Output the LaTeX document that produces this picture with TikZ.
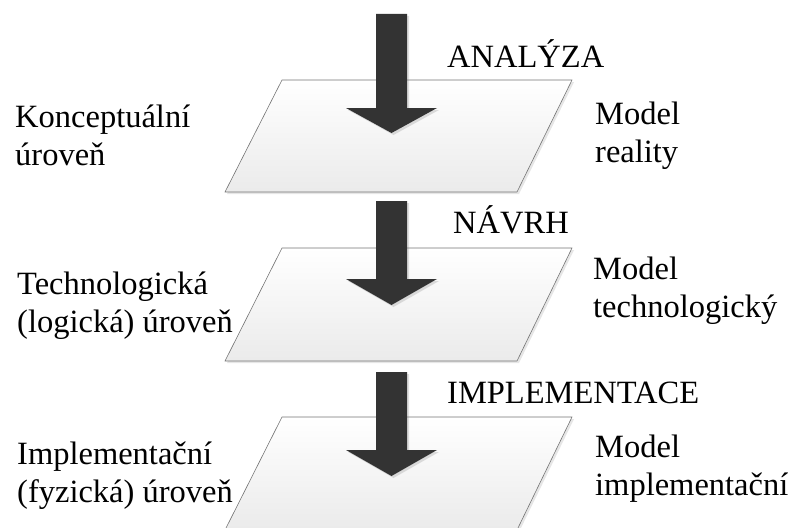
\documentclass[tikz,border=0pt]{standalone}
\usepackage{fontspec}
\setmainfont{Liberation Serif}
\usetikzlibrary{shadows}

\begin{document}
\begin{tikzpicture}[x=1pt, y=-1pt,
  plane/.style={draw=black!55, line width=0.6pt, top color=white, bottom color=black!8,
                drop shadow={shadow xshift=2pt, shadow yshift=-2pt, opacity=0.2}},
  flow/.style={fill=black!80, draw=none,
               drop shadow={shadow xshift=2pt, shadow yshift=-2pt, opacity=0.25}},
  lbl/.style={font=\fontsize{32.5}{38}\selectfont, align=left, anchor=base west, inner sep=0pt},
  phase/.style={font=\fontsize{32.5}{38}\selectfont, anchor=base west, inner sep=0pt},
]
\useasboundingbox (0,0) rectangle (789,527);

% Planes (levels)
\path[plane] (282,80) -- (572,80) -- (517,192) -- (225,192) -- cycle;
\path[plane] (282,248) -- (572,248) -- (517,361) -- (225,361) -- cycle;
\path[plane] (282,417) -- (572,417) -- (517,530) -- (225,530) -- cycle;

% Block arrows
\path[flow] (376,14) -- (407,14) -- (407,108) -- (437,108) -- (391.5,133)
            -- (346,108) -- (376,108) -- cycle;
\path[flow] (376,201) -- (407,201) -- (407,279) -- (437,279) -- (391.5,305)
            -- (346,279) -- (376,279) -- cycle;
\path[flow] (376,372) -- (407,372) -- (407,450) -- (437,450) -- (391.5,476)
            -- (346,450) -- (376,450) -- cycle;

% Phases
\node[phase] (ana) at (447,67) {ANALÝZA};
\node[phase] (nav) at (453,233) {NÁVRH};
\node[phase] (impl) at (447,403) {IMPLEMENTACE};

% Levels (left), anchored at the last line
\node[lbl] (lev1) at (15,165) {Konceptuální\\úroveň};
\node[lbl] (lev2) at (17,332) {Technologická\\(logická) úroveň};
\node[lbl] (lev3) at (17,502) {Implementační\\(fyzická) úroveň};

% Models (right)
\node[lbl] (mod1) at (595,162) {Model\\reality};
\node[lbl] (mod2) at (593,317) {Model\\technologický};
\node[lbl] (mod3) at (595,495) {Model\\implementační};

\end{tikzpicture}
\end{document}
